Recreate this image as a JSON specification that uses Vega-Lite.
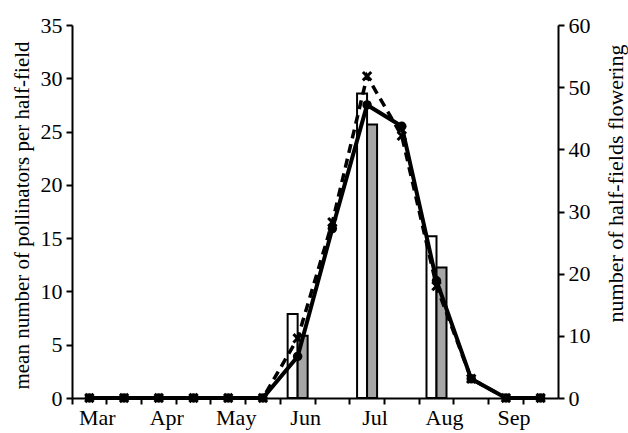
{
  "$schema": "https://vega.github.io/schema/vega-lite/v6.json",
  "width": 486,
  "height": 373,
  "autosize": {"type": "none"},
  "padding": {"left": 72, "top": 25, "right": 70, "bottom": 35},
  "config": {
    "view": {"stroke": null},
    "font": "Liberation Serif",
    "axis": {
      "labelFont": "Liberation Serif",
      "titleFont": "Liberation Serif",
      "labelFontSize": 22,
      "titleFontSize": 21,
      "titleFontWeight": "normal",
      "domainColor": "black",
      "tickColor": "black",
      "labelColor": "black",
      "titleColor": "black",
      "domainWidth": 2,
      "tickWidth": 2,
      "tickSize": 6,
      "grid": false
    }
  },
  "datasets": {
    "bars": [
      {"period": "Jun 1", "group": "a", "halfFields": 13.5},
      {"period": "Jun 1", "group": "b", "halfFields": 10},
      {"period": "Jul 1", "group": "a", "halfFields": 49},
      {"period": "Jul 1", "group": "b", "halfFields": 44},
      {"period": "Aug 1", "group": "a", "halfFields": 26},
      {"period": "Aug 1", "group": "b", "halfFields": 21}
    ],
    "lines": [
      {"period": "Mar 1", "series": "A", "pollinators": 0},
      {"period": "Mar 2", "series": "A", "pollinators": 0},
      {"period": "Apr 1", "series": "A", "pollinators": 0},
      {"period": "Apr 2", "series": "A", "pollinators": 0},
      {"period": "May 1", "series": "A", "pollinators": 0},
      {"period": "May 2", "series": "A", "pollinators": 0},
      {"period": "Jun 1", "series": "A", "pollinators": 3.9},
      {"period": "Jun 2", "series": "A", "pollinators": 15.9},
      {"period": "Jul 1", "series": "A", "pollinators": 27.5},
      {"period": "Jul 2", "series": "A", "pollinators": 25.5},
      {"period": "Aug 1", "series": "A", "pollinators": 11},
      {"period": "Aug 2", "series": "A", "pollinators": 1.8},
      {"period": "Sep 1", "series": "A", "pollinators": 0},
      {"period": "Sep 2", "series": "A", "pollinators": 0},
      {"period": "Mar 1", "series": "B", "pollinators": 0},
      {"period": "Mar 2", "series": "B", "pollinators": 0},
      {"period": "Apr 1", "series": "B", "pollinators": 0},
      {"period": "Apr 2", "series": "B", "pollinators": 0},
      {"period": "May 1", "series": "B", "pollinators": 0},
      {"period": "May 2", "series": "B", "pollinators": 0},
      {"period": "Jun 1", "series": "B", "pollinators": 5.6},
      {"period": "Jun 2", "series": "B", "pollinators": 16.5},
      {"period": "Jul 1", "series": "B", "pollinators": 30.2},
      {"period": "Jul 2", "series": "B", "pollinators": 24.6},
      {"period": "Aug 1", "series": "B", "pollinators": 10.5},
      {"period": "Aug 2", "series": "B", "pollinators": 1.8},
      {"period": "Sep 1", "series": "B", "pollinators": 0},
      {"period": "Sep 2", "series": "B", "pollinators": 0}
    ]
  },
  "layer": [
    {
      "data": {"name": "bars"},
      "mark": {"type": "bar", "stroke": "black", "strokeWidth": 2},
      "encoding": {
        "x": {
          "field": "period",
          "type": "nominal",
          "sort": ["Mar 1","Mar 2","Apr 1","Apr 2","May 1","May 2","Jun 1","Jun 2","Jul 1","Jul 2","Aug 1","Aug 2","Sep 1","Sep 2"],
          "scale": {"domain": ["Mar 1","Mar 2","Apr 1","Apr 2","May 1","May 2","Jun 1","Jun 2","Jul 1","Jul 2","Aug 1","Aug 2","Sep 1","Sep 2"], "paddingInner": 0, "paddingOuter": 0},
          "axis": {
            "title": null,
            "labelAngle": 0,
            "bandPosition": 0,
            "labelOffset": 8,
            "labelPadding": 3,
            "labelExpr": "substring(datum.value, 4) == '1' ? substring(datum.value, 0, 3) : ''"
          }
        },
        "xOffset": {"field": "group", "type": "nominal", "sort": ["a", "b"], "scale": {"paddingInner": 0, "paddingOuter": 0.735}},
        "y": {
          "field": "halfFields",
          "type": "quantitative",
          "scale": {"domain": [0, 60], "nice": false},
          "axis": {
            "orient": "right",
            "values": [0, 10, 20, 30, 40, 50, 60],
            "title": "number of half-fields flowering",
            "titleFontSize": 22,
            "titleAngle": 270,
            "titleBaseline": "middle",
            "titleAlign": "center",
            "titleX": 57,
            "titleY": 158,
            "labelPadding": 4
          }
        },
        "fill": {"field": "group", "type": "nominal", "scale": {"domain": ["a", "b"], "range": ["white", "#a6a6a6"]}, "legend": null}
      }
    },
    {
      "data": {"name": "lines"},
      "encoding": {
        "x": {"field": "period", "type": "nominal", "sort": ["Mar 1","Mar 2","Apr 1","Apr 2","May 1","May 2","Jun 1","Jun 2","Jul 1","Jul 2","Aug 1","Aug 2","Sep 1","Sep 2"]},
        "y": {
          "field": "pollinators",
          "type": "quantitative",
          "scale": {"domain": [0, 35], "nice": false},
          "axis": {
            "orient": "left",
            "values": [0, 5, 10, 15, 20, 25, 30, 35],
            "title": "mean number of pollinators per half-field",
            "titleBaseline": "middle",
            "titleAlign": "center",
            "titleX": -50,
            "titleY": 190,
            "labelPadding": 4
          }
        }
      },
      "layer": [
        {
          "transform": [{"filter": "datum.series == 'B'"}],
          "mark": {"type": "line", "color": "black", "strokeWidth": 3.5, "strokeDash": [9, 6]}
        },
        {
          "transform": [{"filter": "datum.series == 'B'"}],
          "mark": {"type": "point", "shape": "M-1,-1L1,1M1,-1L-1,1", "filled": false, "color": "black", "strokeWidth": 3, "size": 70, "opacity": 1}
        },
        {
          "transform": [{"filter": "datum.series == 'A'"}],
          "mark": {"type": "line", "color": "black", "strokeWidth": 4}
        },
        {
          "transform": [{"filter": "datum.series == 'A'"}],
          "mark": {"type": "point", "shape": "circle", "filled": true, "color": "black", "size": 90, "opacity": 1}
        }
      ]
    }
  ],
  "resolve": {"scale": {"y": "independent", "x": "shared"}}
}
